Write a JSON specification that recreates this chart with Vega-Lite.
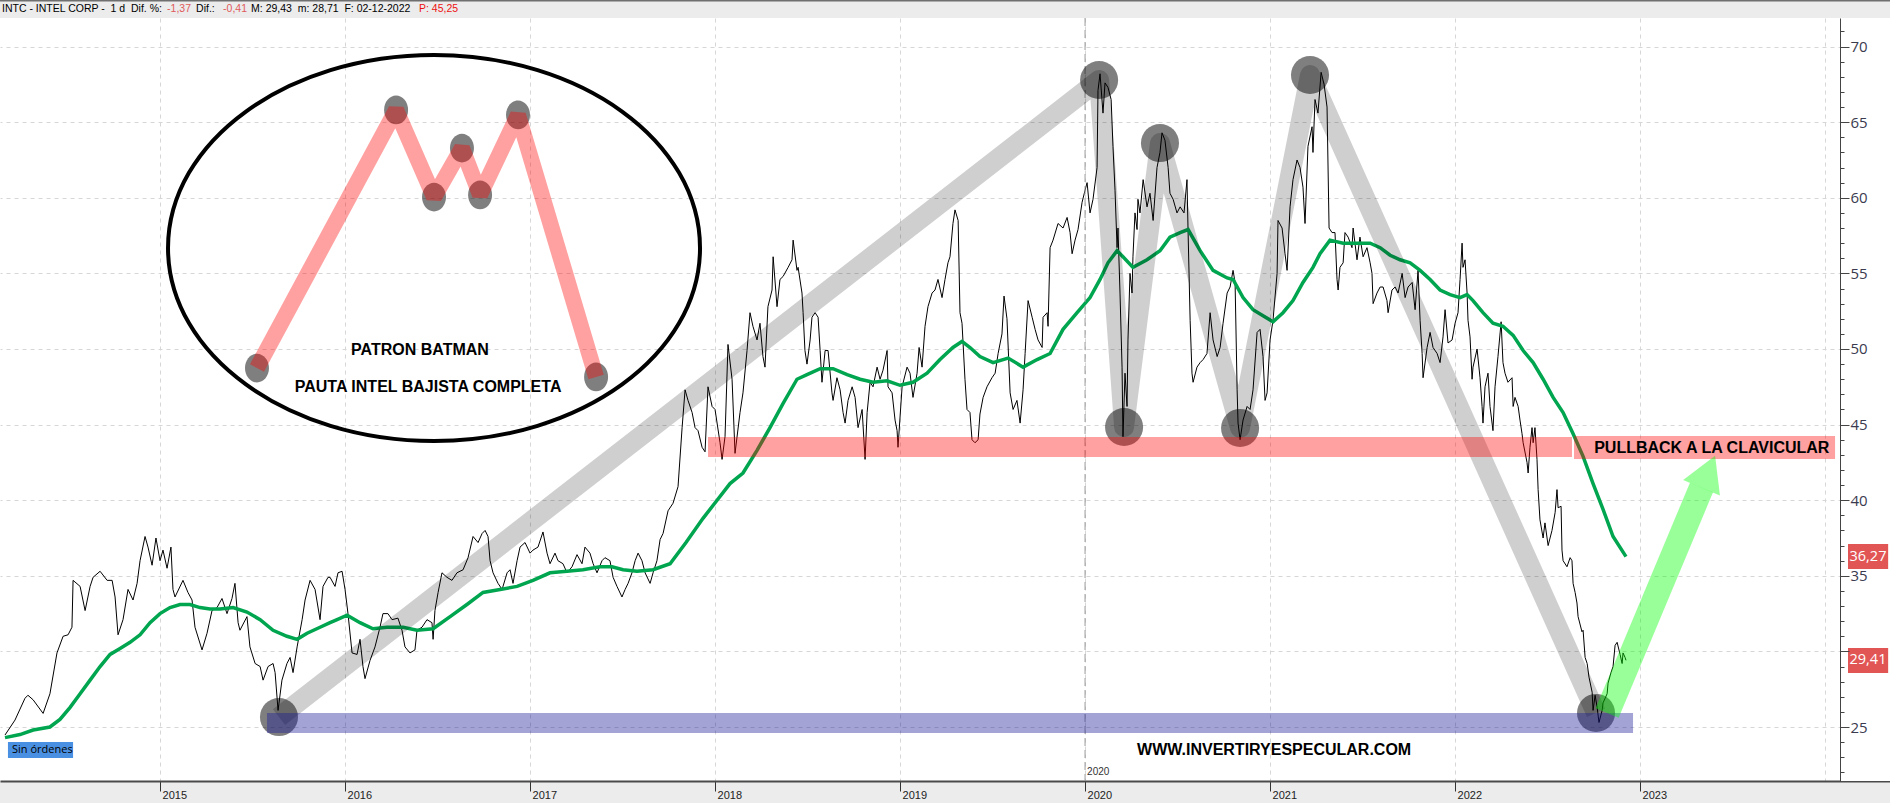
{
"$schema": "https://vega.github.io/schema/vega-lite/v6.json",
"width": 1890, "height": 763,
"autosize": {"type": "none"},
"padding": {"left": 0, "top": 18, "right": 0, "bottom": 22},
"background": "#ececec",
"config": {"view": {"stroke": null, "fill": "white"}},
"resolve": {"axis": {"x": "independent", "y": "independent"}},
"datasets": {
"price": [
{"t":2014.162,"close":24.47},{"t":2014.216,"close":25.46},{"t":2014.270,"close":26.9},{"t":2014.286,"close":27.1},{"t":2014.314,"close":26.8},{"t":2014.368,"close":25.9},{"t":2014.405,"close":27.2},{"t":2014.443,"close":29.9},{"t":2014.476,"close":31.0},{"t":2014.503,"close":31.1},{"t":2014.524,"close":31.6},{"t":2014.530,"close":34.7},{"t":2014.568,"close":34.3},{"t":2014.595,"close":32.7},{"t":2014.622,"close":34.3},{"t":2014.638,"close":34.9},{"t":2014.676,"close":35.3},{"t":2014.714,"close":34.7},{"t":2014.741,"close":34.7},{"t":2014.757,"close":33.6},{"t":2014.773,"close":31.1},{"t":2014.800,"close":32.1},{"t":2014.827,"close":34.1},{"t":2014.854,"close":33.4},{"t":2014.876,"close":34.5},{"t":2014.892,"close":36.0},{"t":2014.919,"close":37.6},{"t":2014.935,"close":36.9},{"t":2014.957,"close":35.7},{"t":2014.978,"close":37.5},{"t":2015.000,"close":36.0},{"t":2015.016,"close":36.7},{"t":2015.038,"close":35.5},{"t":2015.059,"close":36.9},{"t":2015.070,"close":34.1},{"t":2015.081,"close":33.6},{"t":2015.124,"close":34.7},{"t":2015.151,"close":33.9},{"t":2015.173,"close":33.4},{"t":2015.189,"close":31.6},{"t":2015.227,"close":30.1},{"t":2015.254,"close":31.2},{"t":2015.281,"close":32.7},{"t":2015.308,"close":32.9},{"t":2015.335,"close":33.5},{"t":2015.362,"close":32.5},{"t":2015.389,"close":33.5},{"t":2015.405,"close":34.5},{"t":2015.422,"close":31.9},{"t":2015.432,"close":31.4},{"t":2015.470,"close":32.3},{"t":2015.486,"close":30.3},{"t":2015.514,"close":29.2},{"t":2015.541,"close":29.0},{"t":2015.557,"close":28.1},{"t":2015.584,"close":29.0},{"t":2015.611,"close":29.2},{"t":2015.622,"close":28.6},{"t":2015.638,"close":26.1},{"t":2015.659,"close":28.1},{"t":2015.686,"close":29.2},{"t":2015.703,"close":29.6},{"t":2015.719,"close":28.6},{"t":2015.741,"close":30.3},{"t":2015.768,"close":32.1},{"t":2015.784,"close":33.4},{"t":2015.811,"close":34.7},{"t":2015.838,"close":34.1},{"t":2015.865,"close":32.1},{"t":2015.881,"close":34.3},{"t":2015.908,"close":34.9},{"t":2015.919,"close":34.9},{"t":2015.946,"close":34.3},{"t":2015.962,"close":35.2},{"t":2015.984,"close":35.3},{"t":2016.000,"close":34.1},{"t":2016.016,"close":32.5},{"t":2016.038,"close":29.9},{"t":2016.065,"close":29.8},{"t":2016.081,"close":30.8},{"t":2016.097,"close":29.0},{"t":2016.108,"close":28.2},{"t":2016.135,"close":29.4},{"t":2016.162,"close":30.3},{"t":2016.189,"close":31.6},{"t":2016.205,"close":32.5},{"t":2016.232,"close":32.5},{"t":2016.254,"close":32.1},{"t":2016.286,"close":32.2},{"t":2016.308,"close":31.4},{"t":2016.324,"close":30.3},{"t":2016.351,"close":29.9},{"t":2016.378,"close":30.1},{"t":2016.389,"close":31.4},{"t":2016.416,"close":31.6},{"t":2016.443,"close":32.1},{"t":2016.470,"close":31.9},{"t":2016.476,"close":30.8},{"t":2016.486,"close":32.7},{"t":2016.503,"close":33.9},{"t":2016.524,"close":35.2},{"t":2016.551,"close":34.9},{"t":2016.578,"close":34.7},{"t":2016.605,"close":35.2},{"t":2016.638,"close":35.4},{"t":2016.665,"close":36.2},{"t":2016.692,"close":37.6},{"t":2016.719,"close":37.2},{"t":2016.741,"close":37.8},{"t":2016.757,"close":38.0},{"t":2016.773,"close":37.6},{"t":2016.784,"close":36.0},{"t":2016.800,"close":35.2},{"t":2016.827,"close":34.5},{"t":2016.849,"close":34.1},{"t":2016.876,"close":35.2},{"t":2016.892,"close":35.4},{"t":2016.908,"close":34.5},{"t":2016.930,"close":36.0},{"t":2016.946,"close":36.9},{"t":2016.973,"close":37.2},{"t":2017.000,"close":36.5},{"t":2017.016,"close":36.7},{"t":2017.043,"close":36.9},{"t":2017.070,"close":37.9},{"t":2017.092,"close":36.5},{"t":2017.108,"close":35.8},{"t":2017.135,"close":36.5},{"t":2017.151,"close":36.0},{"t":2017.178,"close":35.8},{"t":2017.200,"close":35.2},{"t":2017.227,"close":35.6},{"t":2017.254,"close":36.4},{"t":2017.281,"close":35.8},{"t":2017.297,"close":36.9},{"t":2017.324,"close":36.5},{"t":2017.341,"close":35.8},{"t":2017.362,"close":35.2},{"t":2017.389,"close":36.0},{"t":2017.405,"close":36.2},{"t":2017.432,"close":36.0},{"t":2017.449,"close":34.9},{"t":2017.470,"close":34.3},{"t":2017.497,"close":33.6},{"t":2017.514,"close":34.1},{"t":2017.530,"close":34.5},{"t":2017.551,"close":35.2},{"t":2017.568,"close":36.0},{"t":2017.584,"close":36.5},{"t":2017.605,"close":36.0},{"t":2017.622,"close":35.2},{"t":2017.649,"close":34.5},{"t":2017.665,"close":35.2},{"t":2017.686,"close":36.0},{"t":2017.703,"close":37.4},{"t":2017.719,"close":37.8},{"t":2017.746,"close":39.3},{"t":2017.773,"close":39.8},{"t":2017.800,"close":40.9},{"t":2017.822,"close":44.8},{"t":2017.838,"close":47.3},{"t":2017.854,"close":46.6},{"t":2017.876,"close":45.8},{"t":2017.892,"close":44.8},{"t":2017.908,"close":44.6},{"t":2017.930,"close":43.5},{"t":2017.946,"close":43.2},{"t":2017.962,"close":47.5},{"t":2017.984,"close":46.2},{"t":2018.000,"close":46.0},{"t":2018.027,"close":43.8},{"t":2018.038,"close":42.7},{"t":2018.054,"close":44.2},{"t":2018.070,"close":50.3},{"t":2018.092,"close":48.0},{"t":2018.108,"close":43.1},{"t":2018.135,"close":45.8},{"t":2018.151,"close":47.1},{"t":2018.173,"close":49.9},{"t":2018.189,"close":52.4},{"t":2018.205,"close":51.5},{"t":2018.227,"close":50.6},{"t":2018.243,"close":51.7},{"t":2018.259,"close":49.5},{"t":2018.270,"close":48.8},{"t":2018.286,"close":52.8},{"t":2018.308,"close":53.9},{"t":2018.314,"close":56.1},{"t":2018.335,"close":52.8},{"t":2018.351,"close":54.6},{"t":2018.368,"close":54.8},{"t":2018.395,"close":55.4},{"t":2018.416,"close":55.9},{"t":2018.422,"close":57.2},{"t":2018.443,"close":55.2},{"t":2018.449,"close":55.4},{"t":2018.470,"close":53.7},{"t":2018.476,"close":52.4},{"t":2018.486,"close":49.9},{"t":2018.497,"close":49.0},{"t":2018.514,"close":50.6},{"t":2018.524,"close":52.1},{"t":2018.541,"close":52.4},{"t":2018.557,"close":52.1},{"t":2018.568,"close":49.9},{"t":2018.578,"close":47.8},{"t":2018.595,"close":49.9},{"t":2018.611,"close":49.9},{"t":2018.632,"close":47.1},{"t":2018.638,"close":46.6},{"t":2018.659,"close":48.1},{"t":2018.676,"close":47.3},{"t":2018.692,"close":45.8},{"t":2018.703,"close":45.1},{"t":2018.719,"close":46.6},{"t":2018.741,"close":47.5},{"t":2018.757,"close":46.8},{"t":2018.773,"close":44.8},{"t":2018.795,"close":46.0},{"t":2018.811,"close":42.7},{"t":2018.822,"close":45.8},{"t":2018.838,"close":47.8},{"t":2018.854,"close":47.5},{"t":2018.876,"close":48.8},{"t":2018.892,"close":48.0},{"t":2018.908,"close":48.6},{"t":2018.930,"close":49.9},{"t":2018.935,"close":47.5},{"t":2018.957,"close":47.1},{"t":2018.973,"close":45.3},{"t":2018.984,"close":44.6},{"t":2018.989,"close":43.5},{"t":2019.011,"close":47.5},{"t":2019.038,"close":48.8},{"t":2019.054,"close":48.4},{"t":2019.070,"close":46.8},{"t":2019.092,"close":48.4},{"t":2019.103,"close":50.1},{"t":2019.119,"close":48.8},{"t":2019.135,"close":51.5},{"t":2019.151,"close":52.8},{"t":2019.173,"close":53.7},{"t":2019.189,"close":53.9},{"t":2019.205,"close":54.6},{"t":2019.227,"close":53.4},{"t":2019.243,"close":54.6},{"t":2019.259,"close":55.7},{"t":2019.270,"close":56.1},{"t":2019.286,"close":58.3},{"t":2019.297,"close":59.2},{"t":2019.314,"close":58.5},{"t":2019.324,"close":52.4},{"t":2019.335,"close":51.7},{"t":2019.351,"close":48.0},{"t":2019.362,"close":46.0},{"t":2019.378,"close":45.8},{"t":2019.389,"close":44.0},{"t":2019.405,"close":43.8},{"t":2019.422,"close":44.0},{"t":2019.432,"close":45.7},{"t":2019.449,"close":46.8},{"t":2019.470,"close":47.5},{"t":2019.497,"close":48.1},{"t":2019.514,"close":48.4},{"t":2019.530,"close":49.7},{"t":2019.551,"close":51.0},{"t":2019.562,"close":53.5},{"t":2019.578,"close":52.0},{"t":2019.595,"close":47.1},{"t":2019.611,"close":46.0},{"t":2019.632,"close":46.6},{"t":2019.649,"close":45.1},{"t":2019.665,"close":47.3},{"t":2019.676,"close":49.7},{"t":2019.692,"close":53.2},{"t":2019.714,"close":52.1},{"t":2019.730,"close":51.3},{"t":2019.746,"close":50.6},{"t":2019.768,"close":50.1},{"t":2019.773,"close":52.1},{"t":2019.795,"close":52.4},{"t":2019.800,"close":51.5},{"t":2019.811,"close":56.7},{"t":2019.827,"close":57.2},{"t":2019.854,"close":58.3},{"t":2019.881,"close":58.0},{"t":2019.903,"close":58.7},{"t":2019.919,"close":57.7},{"t":2019.930,"close":56.3},{"t":2019.946,"close":57.2},{"t":2019.962,"close":57.9},{"t":2019.984,"close":59.7},{"t":2020.000,"close":60.5},{"t":2020.011,"close":61.0},{"t":2020.027,"close":59.0},{"t":2020.043,"close":59.9},{"t":2020.065,"close":62.0},{"t":2020.070,"close":67.1},{"t":2020.081,"close":68.2},{"t":2020.097,"close":65.6},{"t":2020.108,"close":67.6},{"t":2020.124,"close":67.3},{"t":2020.141,"close":66.5},{"t":2020.151,"close":63.4},{"t":2020.162,"close":60.5},{"t":2020.173,"close":56.7},{"t":2020.178,"close":58.0},{"t":2020.189,"close":53.7},{"t":2020.200,"close":48.8},{"t":2020.205,"close":44.2},{"t":2020.216,"close":48.4},{"t":2020.227,"close":46.2},{"t":2020.232,"close":50.6},{"t":2020.243,"close":55.0},{"t":2020.254,"close":53.7},{"t":2020.259,"close":56.1},{"t":2020.270,"close":59.0},{"t":2020.281,"close":57.9},{"t":2020.286,"close":59.9},{"t":2020.297,"close":59.0},{"t":2020.314,"close":61.2},{"t":2020.335,"close":59.4},{"t":2020.351,"close":60.3},{"t":2020.368,"close":58.5},{"t":2020.389,"close":62.0},{"t":2020.405,"close":63.0},{"t":2020.416,"close":64.3},{"t":2020.432,"close":63.8},{"t":2020.449,"close":62.0},{"t":2020.459,"close":60.3},{"t":2020.476,"close":59.9},{"t":2020.497,"close":59.0},{"t":2020.514,"close":59.4},{"t":2020.535,"close":59.0},{"t":2020.551,"close":61.2},{"t":2020.557,"close":57.7},{"t":2020.568,"close":51.9},{"t":2020.578,"close":48.4},{"t":2020.584,"close":47.8},{"t":2020.605,"close":48.8},{"t":2020.622,"close":49.1},{"t":2020.638,"close":49.3},{"t":2020.659,"close":49.7},{"t":2020.676,"close":52.4},{"t":2020.692,"close":50.6},{"t":2020.714,"close":49.5},{"t":2020.730,"close":50.1},{"t":2020.746,"close":51.7},{"t":2020.768,"close":53.7},{"t":2020.784,"close":54.1},{"t":2020.800,"close":55.2},{"t":2020.811,"close":54.4},{"t":2020.822,"close":47.3},{"t":2020.827,"close":45.1},{"t":2020.838,"close":44.0},{"t":2020.854,"close":45.3},{"t":2020.876,"close":46.2},{"t":2020.892,"close":46.0},{"t":2020.908,"close":47.3},{"t":2020.930,"close":51.1},{"t":2020.946,"close":51.3},{"t":2020.962,"close":49.5},{"t":2020.973,"close":46.6},{"t":2020.984,"close":47.1},{"t":2021.000,"close":50.6},{"t":2021.016,"close":51.9},{"t":2021.038,"close":55.0},{"t":2021.043,"close":58.5},{"t":2021.065,"close":58.0},{"t":2021.081,"close":56.3},{"t":2021.092,"close":55.2},{"t":2021.108,"close":59.4},{"t":2021.124,"close":61.2},{"t":2021.146,"close":62.5},{"t":2021.162,"close":62.0},{"t":2021.178,"close":60.7},{"t":2021.189,"close":58.3},{"t":2021.205,"close":63.4},{"t":2021.227,"close":64.7},{"t":2021.232,"close":63.0},{"t":2021.243,"close":66.5},{"t":2021.259,"close":65.6},{"t":2021.276,"close":68.3},{"t":2021.292,"close":67.5},{"t":2021.308,"close":66.0},{"t":2021.319,"close":58.0},{"t":2021.335,"close":57.7},{"t":2021.351,"close":57.7},{"t":2021.362,"close":54.6},{"t":2021.368,"close":53.9},{"t":2021.378,"close":55.4},{"t":2021.395,"close":55.7},{"t":2021.405,"close":57.7},{"t":2021.422,"close":57.4},{"t":2021.443,"close":56.7},{"t":2021.449,"close":58.0},{"t":2021.470,"close":55.9},{"t":2021.486,"close":57.4},{"t":2021.503,"close":56.1},{"t":2021.524,"close":56.7},{"t":2021.541,"close":55.7},{"t":2021.551,"close":55.0},{"t":2021.557,"close":53.0},{"t":2021.578,"close":53.7},{"t":2021.595,"close":54.1},{"t":2021.611,"close":54.1},{"t":2021.632,"close":53.2},{"t":2021.638,"close":52.4},{"t":2021.659,"close":53.9},{"t":2021.676,"close":54.1},{"t":2021.692,"close":53.7},{"t":2021.714,"close":55.0},{"t":2021.730,"close":53.4},{"t":2021.746,"close":54.1},{"t":2021.768,"close":54.4},{"t":2021.784,"close":52.6},{"t":2021.800,"close":55.2},{"t":2021.811,"close":51.9},{"t":2021.822,"close":49.7},{"t":2021.827,"close":48.1},{"t":2021.849,"close":50.1},{"t":2021.865,"close":51.1},{"t":2021.881,"close":50.1},{"t":2021.903,"close":49.7},{"t":2021.919,"close":49.1},{"t":2021.935,"close":50.8},{"t":2021.946,"close":52.6},{"t":2021.962,"close":50.4},{"t":2021.984,"close":50.6},{"t":2022.000,"close":51.7},{"t":2022.016,"close":52.4},{"t":2022.027,"close":54.6},{"t":2022.038,"close":57.0},{"t":2022.043,"close":55.4},{"t":2022.054,"close":55.9},{"t":2022.065,"close":53.7},{"t":2022.070,"close":51.9},{"t":2022.081,"close":50.8},{"t":2022.092,"close":48.0},{"t":2022.097,"close":48.8},{"t":2022.119,"close":50.0},{"t":2022.135,"close":48.1},{"t":2022.146,"close":46.2},{"t":2022.151,"close":45.1},{"t":2022.162,"close":47.5},{"t":2022.178,"close":48.4},{"t":2022.189,"close":46.2},{"t":2022.205,"close":44.6},{"t":2022.216,"close":47.5},{"t":2022.232,"close":49.5},{"t":2022.249,"close":51.8},{"t":2022.259,"close":49.1},{"t":2022.270,"close":48.4},{"t":2022.286,"close":47.8},{"t":2022.308,"close":48.1},{"t":2022.314,"close":46.2},{"t":2022.324,"close":46.8},{"t":2022.341,"close":46.2},{"t":2022.351,"close":45.3},{"t":2022.362,"close":44.4},{"t":2022.368,"close":43.8},{"t":2022.389,"close":42.5},{"t":2022.395,"close":41.8},{"t":2022.405,"close":43.5},{"t":2022.416,"close":44.8},{"t":2022.422,"close":43.8},{"t":2022.432,"close":44.8},{"t":2022.443,"close":42.7},{"t":2022.449,"close":40.7},{"t":2022.459,"close":38.7},{"t":2022.476,"close":37.5},{"t":2022.486,"close":38.5},{"t":2022.503,"close":37.0},{"t":2022.524,"close":38.0},{"t":2022.541,"close":39.2},{"t":2022.551,"close":40.7},{"t":2022.557,"close":39.5},{"t":2022.573,"close":39.6},{"t":2022.578,"close":36.7},{"t":2022.584,"close":36.0},{"t":2022.605,"close":35.6},{"t":2022.622,"close":36.2},{"t":2022.632,"close":36.0},{"t":2022.638,"close":34.5},{"t":2022.649,"close":33.9},{"t":2022.659,"close":33.2},{"t":2022.665,"close":32.3},{"t":2022.686,"close":31.3},{"t":2022.692,"close":31.4},{"t":2022.703,"close":29.6},{"t":2022.714,"close":29.2},{"t":2022.724,"close":28.3},{"t":2022.741,"close":27.3},{"t":2022.746,"close":26.1},{"t":2022.757,"close":27.1},{"t":2022.768,"close":26.3},{"t":2022.778,"close":25.3},{"t":2022.795,"close":26.1},{"t":2022.800,"close":26.6},{"t":2022.822,"close":27.2},{"t":2022.827,"close":27.9},{"t":2022.843,"close":28.6},{"t":2022.854,"close":29.0},{"t":2022.865,"close":30.4},{"t":2022.876,"close":30.6},{"t":2022.892,"close":29.8},{"t":2022.903,"close":29.2},{"t":2022.908,"close":29.9},{"t":2022.919,"close":29.6},{"t":2022.924,"close":29.41}
],
"ma": [
{"t":2014.162,"ma":24.3},{"t":2014.243,"ma":24.5},{"t":2014.314,"ma":24.8},{"t":2014.405,"ma":25.0},{"t":2014.459,"ma":25.5},{"t":2014.514,"ma":26.3},{"t":2014.568,"ma":27.2},{"t":2014.622,"ma":28.1},{"t":2014.676,"ma":29.0},{"t":2014.730,"ma":29.8},{"t":2014.784,"ma":30.2},{"t":2014.838,"ma":30.6},{"t":2014.892,"ma":31.1},{"t":2014.946,"ma":31.9},{"t":2015.000,"ma":32.5},{"t":2015.054,"ma":32.9},{"t":2015.108,"ma":33.1},{"t":2015.162,"ma":33.1},{"t":2015.216,"ma":32.9},{"t":2015.270,"ma":32.8},{"t":2015.324,"ma":32.8},{"t":2015.395,"ma":32.9},{"t":2015.470,"ma":32.6},{"t":2015.541,"ma":32.1},{"t":2015.611,"ma":31.4},{"t":2015.686,"ma":31.0},{"t":2015.741,"ma":30.8},{"t":2015.795,"ma":31.2},{"t":2015.865,"ma":31.6},{"t":2015.919,"ma":31.9},{"t":2015.957,"ma":32.1},{"t":2016.011,"ma":32.4},{"t":2016.081,"ma":31.9},{"t":2016.151,"ma":31.5},{"t":2016.227,"ma":31.6},{"t":2016.314,"ma":31.6},{"t":2016.389,"ma":31.4},{"t":2016.476,"ma":31.5},{"t":2016.568,"ma":32.3},{"t":2016.659,"ma":33.1},{"t":2016.746,"ma":33.9},{"t":2016.838,"ma":34.1},{"t":2016.930,"ma":34.3},{"t":2017.016,"ma":34.7},{"t":2017.108,"ma":35.2},{"t":2017.200,"ma":35.3},{"t":2017.286,"ma":35.4},{"t":2017.378,"ma":35.6},{"t":2017.443,"ma":35.6},{"t":2017.503,"ma":35.4},{"t":2017.578,"ma":35.3},{"t":2017.665,"ma":35.4},{"t":2017.757,"ma":35.8},{"t":2017.843,"ma":37.2},{"t":2017.935,"ma":38.8},{"t":2018.011,"ma":40.0},{"t":2018.081,"ma":41.1},{"t":2018.151,"ma":41.8},{"t":2018.227,"ma":43.3},{"t":2018.297,"ma":44.8},{"t":2018.368,"ma":46.4},{"t":2018.443,"ma":48.0},{"t":2018.497,"ma":48.3},{"t":2018.568,"ma":48.7},{"t":2018.638,"ma":48.7},{"t":2018.714,"ma":48.3},{"t":2018.784,"ma":48.0},{"t":2018.854,"ma":47.8},{"t":2018.930,"ma":47.9},{"t":2019.000,"ma":47.6},{"t":2019.070,"ma":47.8},{"t":2019.146,"ma":48.4},{"t":2019.216,"ma":49.3},{"t":2019.286,"ma":50.1},{"t":2019.335,"ma":50.5},{"t":2019.378,"ma":50.1},{"t":2019.432,"ma":49.5},{"t":2019.503,"ma":49.1},{"t":2019.584,"ma":49.4},{"t":2019.665,"ma":48.8},{"t":2019.741,"ma":49.3},{"t":2019.811,"ma":49.7},{"t":2019.881,"ma":51.3},{"t":2019.957,"ma":52.4},{"t":2020.027,"ma":53.4},{"t":2020.081,"ma":54.6},{"t":2020.124,"ma":55.7},{"t":2020.173,"ma":56.5},{"t":2020.205,"ma":56.1},{"t":2020.259,"ma":55.4},{"t":2020.335,"ma":55.9},{"t":2020.405,"ma":56.5},{"t":2020.459,"ma":57.4},{"t":2020.514,"ma":57.7},{"t":2020.557,"ma":57.9},{"t":2020.622,"ma":56.5},{"t":2020.692,"ma":55.2},{"t":2020.768,"ma":54.7},{"t":2020.800,"ma":54.6},{"t":2020.854,"ma":53.4},{"t":2020.908,"ma":52.6},{"t":2020.962,"ma":52.2},{"t":2021.016,"ma":51.8},{"t":2021.070,"ma":52.4},{"t":2021.124,"ma":53.2},{"t":2021.178,"ma":54.4},{"t":2021.232,"ma":55.4},{"t":2021.270,"ma":56.3},{"t":2021.324,"ma":57.2},{"t":2021.395,"ma":57.0},{"t":2021.470,"ma":57.0},{"t":2021.541,"ma":57.0},{"t":2021.595,"ma":56.7},{"t":2021.649,"ma":56.2},{"t":2021.703,"ma":55.9},{"t":2021.757,"ma":55.7},{"t":2021.811,"ma":55.2},{"t":2021.865,"ma":54.6},{"t":2021.919,"ma":53.9},{"t":2021.973,"ma":53.6},{"t":2022.027,"ma":53.4},{"t":2022.065,"ma":53.6},{"t":2022.097,"ma":53.2},{"t":2022.151,"ma":52.4},{"t":2022.205,"ma":51.7},{"t":2022.259,"ma":51.5},{"t":2022.314,"ma":50.9},{"t":2022.368,"ma":49.9},{"t":2022.422,"ma":49.1},{"t":2022.476,"ma":48.0},{"t":2022.530,"ma":46.8},{"t":2022.584,"ma":45.8},{"t":2022.638,"ma":44.4},{"t":2022.692,"ma":42.9},{"t":2022.746,"ma":41.1},{"t":2022.800,"ma":39.4},{"t":2022.854,"ma":37.6},{"t":2022.924,"ma":36.27}
],
"zigzag": [
{"order":1,"t":2015.643,"v":25.66},{"order":2,"t":2020.076,"v":67.79},{"order":3,"t":2020.211,"v":44.84},{"order":4,"t":2020.405,"v":63.62},{"order":5,"t":2020.838,"v":44.78},{"order":6,"t":2021.216,"v":68.12},{"order":7,"t":2022.762,"v":25.93}
],
"batman": [
{"order":1,"t":2015.524,"v":48.74},{"order":2,"t":2016.276,"v":65.81},{"order":3,"t":2016.481,"v":60.05},{"order":4,"t":2016.632,"v":63.29},{"order":5,"t":2016.730,"v":60.19},{"order":6,"t":2016.935,"v":65.48},{"order":7,"t":2017.357,"v":48.15}
]
},
"layer": [
{"data": {"name": "price"}, "mark": {"type": "line", "color": "black", "strokeWidth": 1},
 "encoding": {
  "x": {"field": "t", "type": "quantitative", "scale": {"domain": [2014.135, 2024.351], "nice": false, "zero": false},
   "axis": {"orient": "bottom", "title": null, "values": [2015,2016,2017,2018,2019,2020,2021,2022,2023,2024],
    "labelExpr": "datum.value >= 2024 ? '' : format(datum.value, 'd')", "grid": true, "gridColor": "#d6d6d6", "gridDash": [4, 4],
    "domainColor": "#4a4a4a", "domainWidth": 2, "tickColor": "#333333", "tickSize": 10,
    "tickOpacity": {"condition": {"test": "datum.value >= 2024", "value": 0}, "value": 1},
    "labelAlign": "left", "labelBaseline": "top", "labelPadding": -2, "labelOffset": 2,
    "labelFont": "Liberation Sans", "labelFontSize": 11, "labelColor": "#222222"}},
  "y": {"field": "close", "type": "quantitative", "scale": {"domain": [21.43, 71.89], "nice": false, "zero": false},
   "axis": {"orient": "right", "offset": -50, "title": null, "values": [25,30,35,40,45,50,55,60,65,70],
    "grid": true, "gridColor": "#d6d6d6", "gridDash": [4, 4], "labels": false, "ticks": false, "domain": false}}
 }},
{"data": {"name": "ma"}, "mark": {"type": "line", "color": "#00a54f", "strokeWidth": 3.5},
 "encoding": {"x": {"field": "t", "type": "quantitative", "axis": null},
  "y": {"field": "ma", "type": "quantitative",
   "axis": {"orient": "right", "offset": -50, "title": null, "values": [25,30,35,40,45,50,55,60,65,70], "zindex": 1,
    "grid": false, "tickSize": 9, "tickColor": "#444444", "domainColor": "#444444",
    "labelExpr": "datum.value === 30 ? '' : datum.label",
    "labelFont": "Open Sans", "labelFontSize": 15, "labelColor": "#3b3b4f", "labelPadding": 1}}}},
{"data": {"values": [{}]}, "mark": {"type": "rule", "stroke": "#9a9a9a", "strokeDash": [8, 4], "strokeWidth": 1},
 "encoding": {"x": {"datum": 2020.0, "type": "quantitative", "axis": null}}},
{"data": {"name": "zigzag"}, "mark": {"type": "line", "color": "black", "opacity": 0.19, "strokeWidth": 20, "strokeCap": "butt", "strokeJoin": "round"},
 "encoding": {"x": {"field": "t", "type": "quantitative", "axis": null},
  "y": {"field": "v", "type": "quantitative",
   "axis": {"orient": "right", "offset": -50, "title": null, "zindex": 1, "values": [22,23,24,26,27,28,29,31,32,33,34,36,37,38,39,41,42,43,44,46,47,48,49,51,52,53,54,56,57,58,59,61,62,63,64,66,67,68,69,71],
    "grid": false, "labels": false, "domain": false, "tickSize": 4, "tickColor": "#444444"}},
  "order": {"field": "order"}}},
{"data": {"name": "zigzag"}, "mark": {"type": "point", "shape": "circle", "filled": true, "color": "black", "opacity": 0.5, "size": 1450, "strokeWidth": 0},
 "encoding": {"x": {"field": "t", "type": "quantitative", "axis": null}, "y": {"field": "v", "type": "quantitative", "axis": null}}},
{"data": {"name": "batman"}, "mark": {"type": "point", "shape": "M -1 0 A 1 1.2 0 1 1 1 0 A 1 1.2 0 1 1 -1 0 Z", "filled": true, "color": "black", "opacity": 0.5, "size": 576, "strokeWidth": 0},
 "encoding": {"x": {"field": "t", "type": "quantitative", "axis": null}, "y": {"field": "v", "type": "quantitative", "axis": null}}},
{"data": {"name": "batman"}, "mark": {"type": "line", "color": "#ff0000", "opacity": 0.37, "strokeWidth": 16, "strokeCap": "butt", "strokeJoin": "miter", "strokeMiterLimit": 2},
 "encoding": {"x": {"field": "t", "type": "quantitative", "axis": null}, "y": {"field": "v", "type": "quantitative", "axis": null}, "order": {"field": "order"}}},
{"data": {"values": [{}]}, "mark": {"type": "point", "shape": "M -1 0 A 1 0.7256 0 1 1 1 0 A 1 0.7256 0 1 1 -1 0 Z", "size": 283024, "filled": false, "stroke": "black", "strokeWidth": 4, "opacity": 1},
 "encoding": {"x": {"datum": 2016.481, "type": "quantitative", "axis": null}, "y": {"datum": 56.68, "type": "quantitative", "axis": null}}},
{"data": {"values": [{}]}, "mark": {"type": "rect", "color": "#ff0000", "opacity": 0.37},
 "encoding": {"x": {"datum": 2017.962, "type": "quantitative", "axis": null}, "x2": {"datum": 2022.632}, "y": {"datum": 44.18, "type": "quantitative", "axis": null}, "y2": {"datum": 42.86}}},
{"data": {"values": [{}]}, "mark": {"type": "rect", "color": "#ff0000", "opacity": 0.37},
 "encoding": {"x": {"datum": 2022.643, "type": "quantitative", "axis": null}, "x2": {"datum": 2024.054}, "y": {"datum": 44.25, "type": "quantitative", "axis": null}, "y2": {"datum": 42.72}}},
{"data": {"values": [{}]}, "mark": {"type": "rect", "color": "#1a1a99", "opacity": 0.4},
 "encoding": {"x": {"datum": 2015.578, "type": "quantitative", "axis": null}, "x2": {"datum": 2022.962}, "y": {"datum": 25.93, "type": "quantitative", "axis": null}, "y2": {"datum": 24.60}}},
{"data": {"values": [{}]}, "mark": {"type": "rule", "color": "#00ff00", "opacity": 0.4, "strokeWidth": 25, "strokeCap": "butt"},
 "encoding": {"x": {"datum": 2022.822, "type": "quantitative", "axis": null}, "y": {"datum": 25.93, "type": "quantitative", "axis": null}, "x2": {"datum": 2023.332}, "y2": {"datum": 40.84}}},
{"data": {"values": [{}]}, "mark": {"type": "point", "shape": "triangle-up", "size": 1600, "angle": 23, "filled": true, "color": "#00ff00", "opacity": 0.4, "strokeWidth": 0},
 "encoding": {"x": {"datum": 2023.369, "type": "quantitative", "axis": null}, "y": {"datum": 41.88, "type": "quantitative", "axis": null}}},
{"data": {"values": [{"label": "PATRON BATMAN"}]}, "mark": {"type": "text", "font": "Liberation Sans", "fontWeight": "bold", "fontSize": 16, "color": "black", "align": "center", "baseline": "middle"},
 "encoding": {"x": {"datum": 2016.405, "type": "quantitative", "axis": null}, "y": {"datum": 49.93, "type": "quantitative", "axis": null}, "text": {"field": "label"}}},
{"data": {"values": [{"label": "PAUTA INTEL BAJISTA COMPLETA"}]}, "mark": {"type": "text", "font": "Liberation Sans", "fontWeight": "bold", "fontSize": 16, "color": "black", "align": "center", "baseline": "middle"},
 "encoding": {"x": {"datum": 2016.449, "type": "quantitative", "axis": null}, "y": {"datum": 47.49, "type": "quantitative", "axis": null}, "text": {"field": "label"}}},
{"data": {"values": [{"label": "WWW.INVERTIRYESPECULAR.COM"}]}, "mark": {"type": "text", "font": "Liberation Sans", "fontWeight": "bold", "fontSize": 16, "color": "black", "align": "center", "baseline": "middle"},
 "encoding": {"x": {"datum": 2021.022, "type": "quantitative", "axis": null}, "y": {"datum": 23.48, "type": "quantitative", "axis": null}, "text": {"field": "label"}}},
{"data": {"values": [{"label": "PULLBACK A LA CLAVICULAR"}]}, "mark": {"type": "text", "font": "Liberation Sans", "fontWeight": "bold", "fontSize": 16, "color": "black", "align": "left", "baseline": "middle"},
 "encoding": {"x": {"datum": 2022.752, "type": "quantitative", "axis": null}, "y": {"datum": 43.45, "type": "quantitative", "axis": null}, "text": {"field": "label"}}},
{"data": {"values": [{"label": "2020"}]}, "mark": {"type": "text", "font": "Liberation Sans", "fontSize": 10, "color": "#333333", "align": "left", "baseline": "middle"},
 "encoding": {"x": {"datum": 2020.011, "type": "quantitative", "axis": null}, "y": {"datum": 22.02, "type": "quantitative", "axis": null}, "text": {"field": "label"}}},
{"data": {"values": [{}]}, "mark": {"type": "rect", "color": "white", "opacity": 1},
 "encoding": {"x": {"datum": 2024.081, "type": "quantitative", "axis": null}, "x2": {"datum": 2024.351}, "y": {"datum": 21.43, "type": "quantitative", "axis": null}, "y2": {"datum": 71.89}}},
{"data": {"values": [{}]}, "mark": {"type": "rect", "color": "#e25555", "opacity": 1},
 "encoding": {"x": {"datum": 2024.124, "type": "quantitative", "axis": null}, "x2": {"datum": 2024.341}, "y": {"datum": 37.10, "type": "quantitative", "axis": null}, "y2": {"datum": 35.45}}},
{"data": {"values": [{}]}, "mark": {"type": "rect", "color": "#e25555", "opacity": 1},
 "encoding": {"x": {"datum": 2024.124, "type": "quantitative", "axis": null}, "x2": {"datum": 2024.341}, "y": {"datum": 30.22, "type": "quantitative", "axis": null}, "y2": {"datum": 28.57}}},
{"data": {"values": [{"label": "36,27"}]}, "mark": {"type": "text", "font": "Open Sans", "fontSize": 14.5, "color": "white", "align": "center", "baseline": "middle"},
 "encoding": {"x": {"datum": 2024.232, "type": "quantitative", "axis": null}, "y": {"datum": 36.27, "type": "quantitative", "axis": null}, "text": {"field": "label"}}},
{"data": {"values": [{"label": "29,41"}]}, "mark": {"type": "text", "font": "Open Sans", "fontSize": 14.5, "color": "white", "align": "center", "baseline": "middle"},
 "encoding": {"x": {"datum": 2024.232, "type": "quantitative", "axis": null}, "y": {"datum": 29.41, "type": "quantitative", "axis": null}, "text": {"field": "label"}}},
{"data": {"values": [{}]}, "mark": {"type": "rule", "color": "#6f6f6f", "strokeWidth": 2},
 "encoding": {"x": {"datum": 2014.135, "type": "quantitative", "axis": null}, "x2": {"datum": 2024.351}, "y": {"datum": 73.05, "type": "quantitative", "axis": null}}},
{"data": {"values": [{"label": "INTC - INTEL CORP -\u00a0\u00a01 d\u00a0\u00a0Dif. %:"}]}, "mark": {"type": "text", "font": "Liberation Sans", "fontSize": 10.5, "color": "black", "align": "left", "baseline": "middle"},
 "encoding": {"x": {"datum": 2014.146, "type": "quantitative", "axis": null}, "y": {"datum": 72.49, "type": "quantitative", "axis": null}, "text": {"field": "label"}}},
{"data": {"values": [{"label": "-1,37"}]}, "mark": {"type": "text", "font": "Liberation Sans", "fontSize": 10.5, "color": "#e05a5a", "align": "left", "baseline": "middle"},
 "encoding": {"x": {"datum": 2015.038, "type": "quantitative", "axis": null}, "y": {"datum": 72.49, "type": "quantitative", "axis": null}, "text": {"field": "label"}}},
{"data": {"values": [{"label": "Dif.:"}]}, "mark": {"type": "text", "font": "Liberation Sans", "fontSize": 10.5, "color": "black", "align": "left", "baseline": "middle"},
 "encoding": {"x": {"datum": 2015.195, "type": "quantitative", "axis": null}, "y": {"datum": 72.49, "type": "quantitative", "axis": null}, "text": {"field": "label"}}},
{"data": {"values": [{"label": "-0,41"}]}, "mark": {"type": "text", "font": "Liberation Sans", "fontSize": 10.5, "color": "#e05a5a", "align": "left", "baseline": "middle"},
 "encoding": {"x": {"datum": 2015.341, "type": "quantitative", "axis": null}, "y": {"datum": 72.49, "type": "quantitative", "axis": null}, "text": {"field": "label"}}},
{"data": {"values": [{"label": "M: 29,43\u00a0\u00a0m: 28,71\u00a0\u00a0F: 02-12-2022"}]}, "mark": {"type": "text", "font": "Liberation Sans", "fontSize": 10.5, "color": "black", "align": "left", "baseline": "middle"},
 "encoding": {"x": {"datum": 2015.492, "type": "quantitative", "axis": null}, "y": {"datum": 72.49, "type": "quantitative", "axis": null}, "text": {"field": "label"}}},
{"data": {"values": [{"label": "P: 45,25"}]}, "mark": {"type": "text", "font": "Liberation Sans", "fontSize": 10.5, "color": "#ee1111", "align": "left", "baseline": "middle"},
 "encoding": {"x": {"datum": 2016.400, "type": "quantitative", "axis": null}, "y": {"datum": 72.49, "type": "quantitative", "axis": null}, "text": {"field": "label"}}},
{"data": {"values": [{}]}, "mark": {"type": "rect", "color": "#4a90e2", "opacity": 1},
 "encoding": {"x": {"datum": 2014.178, "type": "quantitative", "axis": null}, "x2": {"datum": 2014.530}, "y": {"datum": 24.01, "type": "quantitative", "axis": null}, "y2": {"datum": 22.95}}},
{"data": {"values": [{"label": "Sin órdenes"}]}, "mark": {"type": "text", "font": "Open Sans", "fontSize": 11, "color": "black", "align": "left", "baseline": "middle"},
 "encoding": {"x": {"datum": 2014.2, "type": "quantitative", "axis": null}, "y": {"datum": 23.48, "type": "quantitative", "axis": null}, "text": {"field": "label"}}}
]
}
